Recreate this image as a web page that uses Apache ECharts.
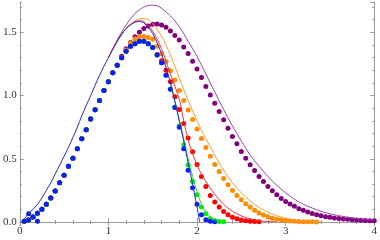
<!DOCTYPE html>
<html><head><meta charset="utf-8">
<script src="https://cdn.jsdelivr.net/npm/echarts@6/dist/echarts.min.js"></script>
<style>html,body{margin:0;padding:0;background:#fff}#c{width:380px;height:240px}</style>
</head><body><div id="c"></div>
<script>
// dots sampled every 0.05 starting at x = 0.05
var dotStep = 0.05;
var blueDots = [0.005,0.015,0.04,0.07,0.10,0.14,0.19,0.245,0.31,0.37,0.44,0.505,0.58,0.658,0.73,0.815,0.887,0.96,1.04,1.11,1.18,1.24,1.30,1.35,1.39,1.41,1.43,1.43,1.41,1.38,1.32,1.26,1.16,1.05,0.905,0.75,0.58,0.41,0.27,0.14,0.058,0.018,0.005,0.001];
var blueExtraX = [0.1,0.2];
var blueExtraY = [0.065,0.005];
var greenDots = [0.005,0.015,0.04,0.07,0.10,0.14,0.19,0.245,0.31,0.37,0.44,0.505,0.58,0.658,0.73,0.815,0.887,0.96,1.04,1.11,1.18,1.24,1.30,1.35,1.39,1.41,1.43,1.43,1.41,1.38,1.32,1.26,1.16,1.05,0.91,0.76,0.61,0.45,0.32,0.216,0.118,0.066,0.026,0.01,0.003,0.001];
var redDots = [0.005,0.015,0.04,0.07,0.10,0.14,0.19,0.245,0.31,0.37,0.44,0.505,0.58,0.658,0.73,0.815,0.887,0.96,1.04,1.11,1.18,1.24,1.30,1.35,1.39,1.41,1.43,1.43,1.41,1.38,1.325,1.275,1.20,1.11,0.99,0.89,0.78,0.665,0.555,0.455,0.36,0.28,0.21,0.158,0.118,0.084,0.058,0.037,0.025,0.016,0.01,0.006,0.003,0.001];
var orangeDots = [0.005,0.015,0.04,0.07,0.10,0.14,0.19,0.245,0.31,0.37,0.44,0.505,0.58,0.658,0.73,0.815,0.887,0.96,1.04,1.11,1.18,1.24,1.30,1.36,1.415,1.45,1.466,1.468,1.46,1.445,1.39,1.33,1.27,1.197,1.124,1.04,0.96,0.885,0.81,0.735,0.66,0.59,0.52,0.455,0.40,0.345,0.295,0.25,0.21,0.175,0.145,0.118,0.093,0.072,0.055,0.041,0.03,0.022,0.016,0.011,0.008,0.005,0.003,0.002,0.001,0.001,0.0005];
var purpleDots = [0.005,0.015,0.04,0.07,0.10,0.14,0.19,0.245,0.31,0.37,0.44,0.505,0.58,0.658,0.73,0.815,0.887,0.96,1.04,1.11,1.18,1.24,1.31,1.37,1.42,1.465,1.50,1.53,1.55,1.564,1.566,1.558,1.54,1.51,1.475,1.44,1.385,1.333,1.272,1.21,1.142,1.071,1.005,0.94,0.874,0.808,0.742,0.676,0.618,0.558,0.505,0.453,0.408,0.36,0.32,0.281,0.247,0.216,0.186,0.163,0.142,0.124,0.105,0.092,0.079,0.068,0.058,0.05,0.042,0.037,0.032,0.027,0.024,0.021,0.018,0.016,0.014,0.012,0.01,0.009];

// curves: x / y pairs
var blueLineX = [0.02,0.05,0.1,0.15,0.2,0.25,0.3,0.35,0.4,0.45,0.5,0.55,0.6,0.65,0.7,0.8,0.9,1.0,1.1,1.2,1.3,1.35,1.4,1.5,1.6,1.7,1.8,1.85,1.9,1.95,2.0,2.03];
var blueLineY = [0.0,0.02,0.07,0.10,0.14,0.19,0.25,0.31,0.38,0.45,0.52,0.59,0.67,0.75,0.84,1.0,1.16,1.30,1.43,1.53,1.58,1.585,1.575,1.49,1.33,1.10,0.80,0.64,0.47,0.30,0.12,0.0];
var greenLineX = [1.7,1.8,1.85,1.9,1.95,2.0,2.05,2.1,2.15,2.2,2.25];
var greenLineY = [1.10,0.81,0.66,0.50,0.36,0.24,0.14,0.075,0.035,0.012,0.0];
var redLineX = [1.0,1.1,1.2,1.3,1.35,1.4,1.5,1.6,1.7,1.8,1.85,1.9,1.95,2.0,2.05,2.1,2.2,2.3,2.4,2.5,2.6,2.7,2.8,2.9];
var redLineY = [1.30,1.43,1.53,1.585,1.592,1.585,1.51,1.37,1.17,0.97,0.80,0.65,0.54,0.45,0.38,0.32,0.22,0.14,0.085,0.048,0.025,0.011,0.004,0.0];
var orangeLineX = [1.0,1.1,1.2,1.3,1.38,1.45,1.5,1.6,1.7,1.8,1.9,2.0,2.1,2.2,2.3,2.4,2.5,2.6,2.7,2.8,2.9,3.0,3.1,3.2,3.3,3.4];
var orangeLineY = [1.30,1.43,1.53,1.59,1.61,1.60,1.57,1.47,1.32,1.14,0.96,0.80,0.66,0.53,0.41,0.31,0.23,0.165,0.115,0.077,0.05,0.03,0.017,0.008,0.003,0.0];
var purpleLineX = [1.0,1.1,1.2,1.3,1.4,1.48,1.55,1.6,1.7,1.8,1.9,2.0,2.1,2.2,2.3,2.4,2.5,2.6,2.7,2.8,2.9,3.0,3.1,3.2,3.3,3.4,3.5,3.6,3.7,3.8,3.9,4.0];
var purpleLineY = [1.30,1.44,1.56,1.65,1.70,1.715,1.71,1.69,1.63,1.545,1.43,1.31,1.17,1.03,0.89,0.76,0.64,0.53,0.44,0.36,0.29,0.23,0.18,0.14,0.11,0.085,0.065,0.05,0.038,0.028,0.021,0.015];

var xTicks = [0,1,2,3,4];
var yTicks = [0.0,0.5,1.0,1.5];

function dots(arr){ return arr.map(function(v,i){ return [Math.round((i+1)*dotStep*100)/100, v]; }); }
function pairs(xs, ys){ return xs.map(function(x,i){ return [x, ys[i]]; }); }

var frame = '#9a9a9a';
var font = 'Liberation Serif';
function xAx(pos, labels){
  return {type:'value', position:pos, min:0, max:4, interval:1,
    axisLine:{show:true, lineStyle:{color:frame, width:1}},
    axisTick:{show:true, inside:true, length:4, lineStyle:{color:frame}},
    minorTick:{show:true, splitNumber:5, length:2, lineStyle:{color:frame}},
    splitLine:{show:false},
    axisLabel:{show:labels, margin:4, color:'#333', fontFamily:font, fontSize:11,
      formatter:function(v){ return xTicks.indexOf(v)>=0 ? String(v) : ''; }}};
}
function yAx(pos, labels, major){
  return {type:'value', position:pos, min:0, max:1.74, interval: major?0.5:0.1,
    axisLine:{show:major, lineStyle:{color:frame, width:1}},
    axisTick:{show:true, inside:true, length: major?4:2, lineStyle:{color:frame}},
    splitLine:{show:false},
    axisLabel:{show:labels, margin:3, color:'#333', fontFamily:font, fontSize:11, showMaxLabel:false,
      formatter:function(v){ return yTicks.indexOf(v)>=0 ? v.toFixed(1) : ''; }}};
}

function dotSeries(data, color){
  return {type:'scatter', xAxisIndex:0, yAxisIndex:0, data:data, symbol:'circle', symbolSize:5,
    itemStyle:{color:color, opacity:1}, silent:true, animation:false};
}
function lineSeries(data, color){
  return {type:'line', xAxisIndex:0, yAxisIndex:0, data:data, showSymbol:false, smooth:0.3,
    lineStyle:{color:color, width:1}, silent:true, animation:false};
}

var chart = echarts.init(document.getElementById('c'), null, {renderer:'canvas'});
chart.setOption({
  animation:false,
  grid:{left:18, right:3, top:2, bottom:18, containLabel:false},
  xAxis:[xAx('bottom', true), xAx('top', false)],
  yAxis:[yAx('left', true, true), yAx('left', false, false), yAx('right', false, true), yAx('right', false, false)],
  series:[
    dotSeries(dots(purpleDots), '#800080'),
    dotSeries(dots(orangeDots), '#ff8c00'),
    dotSeries(dots(redDots), '#ff0000'),
    dotSeries(dots(greenDots), '#00ee00'),
    dotSeries(dots(blueDots), '#0a1eff'),
    dotSeries(pairs(blueExtraX, blueExtraY), '#0a1eff'),
    lineSeries(pairs(purpleLineX, purpleLineY), '#a040b0'),
    lineSeries(pairs(orangeLineX, orangeLineY), '#ff9a30'),
    lineSeries(pairs(redLineX, redLineY), '#ff3030'),
    lineSeries(pairs(greenLineX, greenLineY), '#22dd22'),
    lineSeries(pairs(blueLineX, blueLineY), '#2828c8')
  ]
});
</script></body></html>
